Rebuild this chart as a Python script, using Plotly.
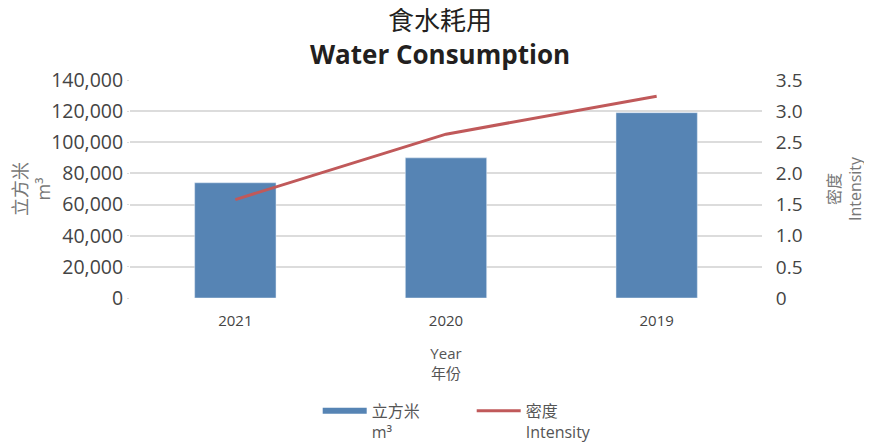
import plotly.graph_objects as go

years = ["2021", "2020", "2019"]
consumption_m3 = [74000, 90000, 119000]
intensity = [1.58, 2.63, 3.24]

left_ticks = [0, 20000, 40000, 60000, 80000, 100000, 120000, 140000]
right_ticks = [0, 0.5, 1.0, 1.5, 2.0, 2.5, 3.0, 3.5]
right_ticktext = ["0", "0.5", "1.0", "1.5", "2.0", "2.5", "3.0", "3.5"]

bar_color = "#5684b4"
line_color = "#c0595a"
font_family = "Open Sans, Noto Sans CJK TC, sans-serif"

fig = go.Figure()
fig.add_trace(go.Bar(
    x=years, y=consumption_m3, name="立方米<br>m³",
    marker=dict(color=bar_color), yaxis="y", showlegend=False,
    legendgroup="m3",
))
# legend entry drawn as a wide flat swatch like the reference
fig.add_trace(go.Scatter(
    x=[None], y=[None], name="立方米<br>m³", mode="lines",
    line=dict(color=bar_color, width=6), legendgroup="m3", yaxis="y",
))
fig.add_trace(go.Scatter(
    x=years, y=intensity, name="密度<br>Intensity", mode="lines",
    line=dict(color=line_color, width=3), yaxis="y2",
))

fig.update_layout(
    width=864, height=437,
    margin=dict(l=122, r=110, t=72, b=147, autoexpand=False),
    paper_bgcolor="white", plot_bgcolor="white",
    font=dict(family=font_family, color="#333333"),
    title=dict(
        text="食水耗用<br><b>Water Consumption</b>",
        x=0.5, xanchor="center", y=0.95, yanchor="top",
        font=dict(size=26, color="#231f20", family=font_family),
    ),
    bargap=0.614,
    xaxis=dict(
        type="category", categoryorder="array", categoryarray=years,
        showgrid=False, showline=False, zeroline=False, automargin=False,
        tickfont=dict(size=15, color="#444444"), ticklabelstandoff=12,
        title=dict(text="Year<br>年份", font=dict(size=15, color="#555555"), standoff=19),
    ),
    yaxis=dict(
        range=[0, 140000], tickvals=left_ticks, tickformat=",d", automargin=False,
        showgrid=True, gridcolor="#dcdcdc", gridwidth=1.5, zeroline=False,
        tickfont=dict(size=19.5, color="#444444"),
        ticks="outside", ticklen=2, tickcolor="#dcdcdc",
        title=dict(text="立方米<br>m³", font=dict(size=18, color="#777777"), standoff=0),
    ),
    yaxis2=dict(
        range=[0, 3.5], tickvals=right_ticks, ticktext=right_ticktext, automargin=False,
        overlaying="y", side="right", showgrid=False, zeroline=False,
        tickfont=dict(size=19, color="#444444"),
        ticks="outside", ticklen=9, tickcolor="rgba(0,0,0,0)",
        title=dict(text="密度<br>Intensity", font=dict(size=16, color="#777777"), standoff=27),
    ),
    legend=dict(
        orientation="h", x=0.297, xanchor="left", y=-0.44, yanchor="top",
        font=dict(size=16, color="#555555"), itemwidth=44,
        entrywidth=95, valign="top", traceorder="normal",
    ),
    showlegend=True,
)

fig.write_html("out.html")
